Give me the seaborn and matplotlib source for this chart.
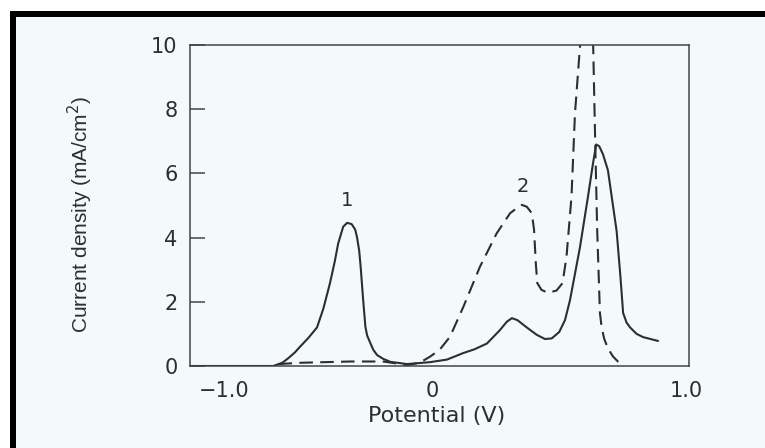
import matplotlib
matplotlib.use("Agg")
import matplotlib.pyplot as plt
import matplotlib.transforms as mtransforms
from matplotlib.patches import Rectangle
import seaborn as sns

# curve 1 (solid)
pot_1 = [-1.0, -0.667, -0.63, -0.605, -0.58, -0.559, -0.525, -0.491, -0.465, -0.439,
         -0.42, -0.406, -0.386, -0.37, -0.352, -0.338, -0.331, -0.322, -0.316, -0.306,
         -0.297, -0.29, -0.277, -0.265, -0.25, -0.225, -0.197, -0.13, -0.038, 0.03,
         0.094, 0.14, 0.19, 0.24, 0.27, 0.29, 0.312, 0.35, 0.39, 0.423,
         0.45, 0.48, 0.503, 0.523, 0.563, 0.595, 0.615, 0.628, 0.64, 0.655,
         0.675, 0.71, 0.725, 0.736, 0.75, 0.764, 0.79, 0.816, 0.876]
cur_1 = [0.0, 0.0, 0.1, 0.25, 0.42, 0.6, 0.88, 1.2, 1.8, 2.58,
         3.25, 3.82, 4.34, 4.46, 4.42, 4.25, 4.03, 3.6, 3.09, 2.06,
         1.22, 0.95, 0.71, 0.5, 0.34, 0.22, 0.13, 0.06, 0.12, 0.2,
         0.4, 0.52, 0.7, 1.1, 1.38, 1.49, 1.43, 1.2, 0.97, 0.84,
         0.86, 1.06, 1.43, 2.05, 3.7, 5.27, 6.3, 6.9, 6.85, 6.6,
         6.1, 4.2, 2.8, 1.65, 1.35, 1.2, 1.0, 0.9, 0.78]

# curve 2 (dashed)
pot_2 = [-0.645, -0.559, -0.36, -0.226, -0.13, -0.08, -0.038, 0.0, 0.042, 0.096,
         0.162, 0.229, 0.283, 0.31, 0.33, 0.35, 0.37, 0.379, 0.386, 0.392,
         0.409, 0.435, 0.469, 0.493, 0.509, 0.529, 0.543, 0.563, 0.585, 0.598,
         0.61, 0.616, 0.623, 0.632, 0.643, 0.65, 0.66, 0.675, 0.695, 0.715,
         0.735]
cur_2 = [0.06, 0.1, 0.14, 0.14, 0.03, 0.1, 0.29, 0.5, 0.91, 1.85,
         3.09, 4.13, 4.76, 4.92, 5.02, 4.96, 4.76, 4.24, 3.2, 2.58,
         2.37, 2.28, 2.35, 2.58, 3.4, 5.27, 7.87, 9.95, 11.5, 12.0,
         11.5, 9.95, 7.35, 4.24, 1.65, 1.2, 0.85, 0.55, 0.3, 0.14,
         0.03]

x_ticks = [-1.0, 0, 1.0]
x_tick_labels = ["\u22121.0", "0", "1.0"]
y_ticks = [0, 2, 4, 6, 8, 10]

bg = "#f4fafb"
ink = "#2e2e2e"

sns.set_style("white")
plt.rcParams["font.family"] = ["DejaVu Sans"]

fig = plt.figure(figsize=(7.65, 4.48), dpi=100)
fig.patch.set_facecolor("white")
W, H = 765, 448
fig.patches.append(Rectangle((16 / W, 0), 1 - 16 / W, 1 - 17 / H, transform=fig.transFigure,
                             facecolor=bg, edgecolor="none", zorder=-2))
fig.patches.append(Rectangle((10 / W, 1 - 17 / H), 1 - 10 / W, 6 / H, transform=fig.transFigure,
                             facecolor="black", edgecolor="none", zorder=-1))
fig.patches.append(Rectangle((10 / W, 0), 6 / W, 1 - 11 / H, transform=fig.transFigure,
                             facecolor="black", edgecolor="none", zorder=-1))

ax = fig.add_axes([190 / W, 1 - 366 / H, 499 / W, 321 / H])
ax.set_zorder(2)
ax.set_facecolor(bg)

sns.lineplot(x=pot_1, y=cur_1, ax=ax, sort=False, estimator=None, color=ink, linewidth=1.5)
sns.lineplot(x=pot_2, y=cur_2, ax=ax, sort=False, estimator=None, color=ink, linewidth=1.5,
             linestyle=(0, (6.5, 3.5)))

ax.set_xlim(-1.0, 1.0)
ax.set_ylim(0, 10)
ax.set_xticks(x_ticks)
ax.set_xticklabels(x_tick_labels)
ax.set_yticks(y_ticks)
ax.tick_params(axis="y", direction="in", length=11, width=1.1, color="#444444",
               pad=9, labelsize=15, labelcolor=ink, left=True)
ax.tick_params(axis="x", length=0, pad=11, labelsize=15, labelcolor=ink)
for s in ax.spines.values():
    s.set_visible(True)
    s.set_color("#444444")
    s.set_linewidth(1.1)

# nudge x tick labels to where the printed figure has them
shifts = [34, -7, -3]
for lab, dx in zip(ax.get_xticklabels(), shifts):
    off = mtransforms.ScaledTranslation(dx / 100, 0, fig.dpi_scale_trans)
    lab.set_transform(lab.get_transform() + off)

ax.text(-0.371, 5.17, "1", ha="center", va="center", fontsize=14, color=ink)
ax.text(0.335, 5.58, "2", ha="center", va="center", fontsize=14, color=ink)

ax.set_xlabel("")
ax.set_ylabel("")
fig.text(437 / W, 1 - 416 / H, "Potential (V)", ha="center", va="center",
         fontsize=16, color=ink)
fig.text(80 / W, 1 - 215 / H, "Current density (mA/cm$^2$)", ha="center", va="center",
         rotation=90, fontsize=15, color=ink,
         family=["Liberation Sans Narrow", "Liberation Sans", "DejaVu Sans"])

fig.savefig("out.png", dpi=100, facecolor=fig.get_facecolor())
